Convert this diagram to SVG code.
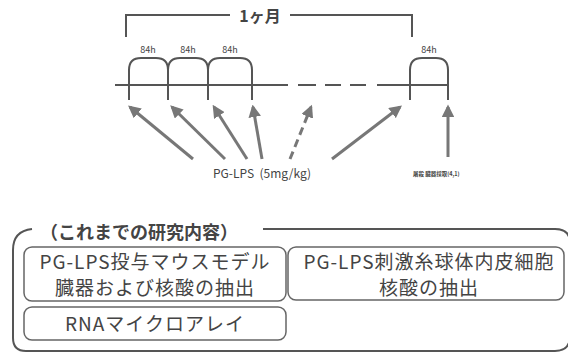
<svg xmlns="http://www.w3.org/2000/svg" width="568" height="353" viewBox="0 0 568 353">
<defs>
<style>
.tl{stroke:#555;stroke-width:2;fill:none}
.ar{stroke:#777;stroke-width:3;fill:none}
.box{stroke:#666;stroke-width:1.5;fill:#fff}
.t{font-family:"Noto Sans CJK JP","Noto Sans",sans-serif;fill:#444}
.s{font-size:9px;text-anchor:middle}
.b{font-size:19px;letter-spacing:1px;text-anchor:middle}
</style>
<marker id="ah" viewBox="0 0 10 10" refX="8" refY="5" markerWidth="4.2" markerHeight="4.2" orient="auto" markerUnits="strokeWidth">
<path d="M0,0 L10,5 L0,10 z" fill="#777"/>
</marker>
</defs>
<rect width="568" height="353" fill="#fff"/>
<g id="timeline">
<path class="tl" d="M126,37 V15 H230 M290,15 H412 V37"/>
<text class="t" x="260" y="22" font-size="16" font-weight="bold" text-anchor="middle" fill="#444">1ヶ月</text>
<path class="tl" d="M115,85 H288 M298,85 H316 M325,85 H341 M350,85 H366 M377,85 H448"/>
<path class="tl" d="M129,70 V100 M168,70 V100 M208,70 V100 M252,70 V100 M410,70 V100 M448,70 V100"/>
<path class="tl" d="M129,70 Q129,58 141,58 H156 Q168,58 168,70 Q168,58 180,58 H196 Q208,58 208,70 Q208,58 220,58 H240 Q252,58 252,70 M410,70 Q410,58 422,58 H436 Q448,58 448,70"/>
<text class="t s" x="148" y="53">84h</text>
<text class="t s" x="188" y="53">84h</text>
<text class="t s" x="230" y="53">84h</text>
<text class="t s" x="429" y="53">84h</text>
</g>
<g id="connectors">
<line class="ar" x1="193" y1="159" x2="130" y2="107" marker-end="url(#ah)"/>
<line class="ar" x1="225" y1="159" x2="172" y2="107" marker-end="url(#ah)"/>
<line class="ar" x1="247" y1="159" x2="214" y2="107" marker-end="url(#ah)"/>
<line class="ar" x1="262" y1="159" x2="253" y2="107" marker-end="url(#ah)"/>
<line class="ar" x1="290" y1="159" x2="311" y2="107" stroke-dasharray="8,5" marker-end="url(#ah)"/>
<line class="ar" x1="332" y1="159" x2="400" y2="107" marker-end="url(#ah)"/>
<line class="ar" x1="448" y1="157" x2="448" y2="107" marker-end="url(#ah)"/>
</g>
<g id="labels">
<text class="t" x="262" y="178" font-size="12" text-anchor="middle" fill="#555" xml:space="preserve">PG-LPS  (5mg/kg)</text>
<text class="t" x="413" y="176" font-size="5.5" fill="#333" font-weight="bold">屠殺 臓器採取(4,1)</text>
</g>
<g id="frame">
<path class="tl" stroke="#666" stroke-width="1.5" d="M32,229 Q13,231 13,250 V338 Q13,351 26,351 H555 Q570,351 570,336 V243 Q570,229 555,229 H263"/>
<text class="t" x="40" y="239" font-size="18" font-weight="bold" fill="#444">（これまでの研究内容）</text>
</g>
<g id="boxA">
<rect class="box" x="24" y="247" width="262" height="54" rx="8"/>
<text class="t b" x="155" y="269">PG-LPS投与マウスモデル</text>
<text class="t b" x="155" y="295">臓器および核酸の抽出</text>
</g>
<g id="boxB">
<rect class="box" x="288" y="247" width="276" height="53" rx="8"/>
<text class="t b" x="429" y="269">PG-LPS刺激糸球体内皮細胞</text>
<text class="t b" x="429" y="295">核酸の抽出</text>
</g>
<g id="boxC">
<rect class="box" x="24" y="307" width="262" height="33" rx="8"/>
<text class="t b" x="155" y="331">RNAマイクロアレイ</text>
</g>
</svg>
